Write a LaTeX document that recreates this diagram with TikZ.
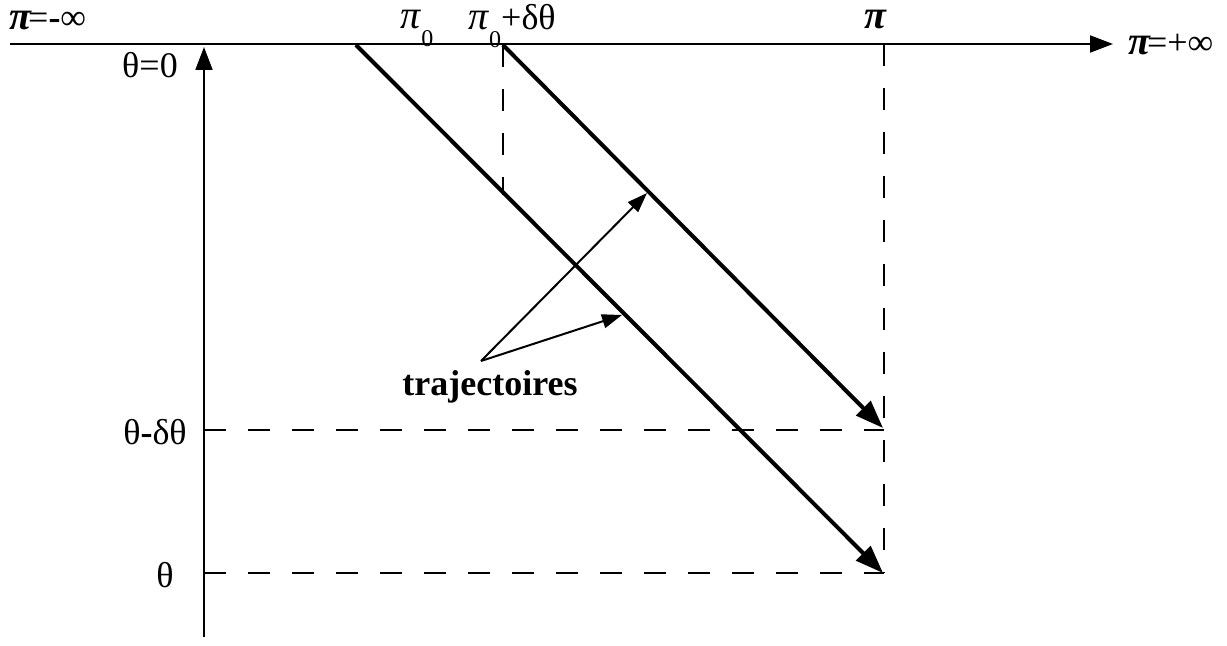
\documentclass[tikz,border=0pt]{standalone}
\usepackage{fontspec}
\setmainfont{Liberation Serif}
\usetikzlibrary{positioning,arrows.meta}
\newcommand{\bpi}{{\fontsize{20}{20}\selectfont\textbf{\textit{π}}}}
\newcommand{\ipi}{{\fontsize{20}{20}\selectfont\textit{π}}}
\newcommand{\lowzero}{\raisebox{-0.5em}{\fontsize{12}{12}\selectfont 0}}

\begin{document}
\begin{tikzpicture}[
  x=0.5pt,y=-0.5pt,
  font=\fontsize{18}{20}\selectfont,
  axis/.style={line width=1pt,-{Triangle[length=11.5pt,width=8.5pt]}},
  traj/.style={line width=2pt,-{Triangle[length=14pt,width=10pt]}},
  hint/.style={line width=1pt,-{Triangle[length=10pt,width=7pt]}},
  guide/.style={line width=0.9pt,dash pattern=on 11pt off 11pt},
  lbl/.style={inner sep=0pt},
]
\useasboundingbox (0,0) rectangle (1227,646);
% axes
\coordinate (xl) at (10,44);
\coordinate (xr) at (1113,44);
\coordinate (yb) at (204,637);
\coordinate (yt) at (204,47);
\draw[axis] (xl) -- (xr);
\draw[axis] (yb) -- (yt);
% axis labels
\node[lbl] (pminus) at (48,21) {\bpi\kern-0.12em=\textbf{-}∞};
\node[lbl] (pplus) at (1171,45) {\bpi\kern-0.12em=+∞};
\node[lbl] (pzero) at (417,28) {\ipi\lowzero};
\node[lbl] (pdelta) at (512,26) {\ipi\lowzero+δθ};
\node[lbl] (pend) at (876,20) {\bpi};
\node[lbl] (tzero) at (150,65) {θ=0};
\node[lbl] (tdelta) at (155,432) {θ\textbf{-}δθ};
\node[lbl] (tend) at (165,575) {θ};
% trajectory end points
\coordinate (s1) at (356,45);
\coordinate (e1) at (883,573);
\coordinate (s2) at (503,45);
\coordinate (e2) at (883,428);
% guides
\draw[guide] (s2) -- (503,195);
\draw[guide] (884,44) -- (884,573);
\draw[guide] (204,430) -- (884,430);
\draw[guide] (204,573) -- (884,573);
% trajectories
\draw[traj] (s1) -- (e1);
\draw[traj] (s2) -- (e2);
% label and pointers
\node[lbl,font=\fontsize{18}{20}\selectfont\bfseries] (tr) at (490,387) {trajectoires};
\coordinate (fork) at (481,361);
\draw[hint] (fork) -- (647,193);
\draw[hint] (fork) -- (622,315);
\end{tikzpicture}
\end{document}
